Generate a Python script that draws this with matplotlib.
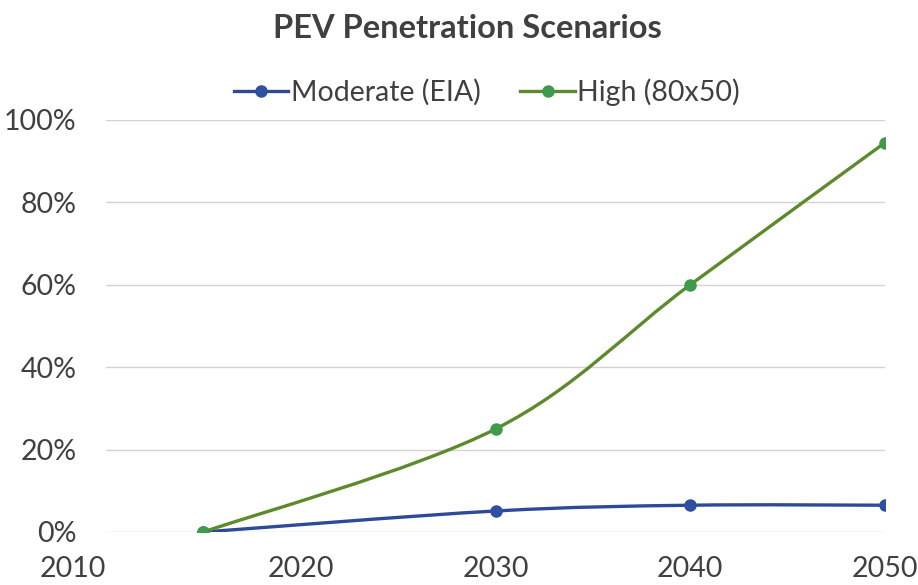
import matplotlib
matplotlib.use("Agg")
import matplotlib.pyplot as plt
from matplotlib.path import Path
from matplotlib.patches import PathPatch
from matplotlib.lines import Line2D
import numpy as np

years = [2015, 2030, 2040, 2050]
moderate = [0.0, 5.1, 6.5, 6.5]
high = [0.0, 25.0, 60.0, 94.5]
series_names = ["Moderate (EIA)", "High (80x50)"]
x_ticks = [2010, 2020, 2030, 2040, 2050]
y_ticks = [0, 20, 40, 60, 80, 100]
y_labels = ["0%", "20%", "40%", "60%", "80%", "100%"]
title = "PEV Penetration Scenarios"

plt.rcParams['font.family'] = ['Lato', 'DejaVu Sans']

fig = plt.figure(figsize=(9.18, 5.85), dpi=100)
ax = fig.add_axes([106/918, 1-532/585, (885-106)/918, (532-120)/585])


def smooth_path(xs, ys):
    pts = np.column_stack([xs, ys]).astype(float)
    n = len(pts)
    verts = [pts[0]]
    codes = [Path.MOVETO]
    for i in range(n - 1):
        p0 = pts[i - 1] if i > 0 else pts[i]
        p1 = pts[i]
        p2 = pts[i + 1]
        p3 = pts[i + 2] if i + 2 < n else pts[i + 1]
        c1 = p1 + (p2 - p0) / 6.0
        c2 = p2 - (p3 - p1) / 6.0
        verts += [c1, c2, p2]
        codes += [Path.CURVE4] * 3
    return Path(verts, codes)


line_colors = ["#2D4A9A", "#5C8A2C"]
marker_colors = ["#2F4FA0", "#3F9A4C"]
for vals, lc, mc in zip([moderate, high], line_colors, marker_colors):
    patch = PathPatch(smooth_path(years, vals), facecolor='none', edgecolor=lc, lw=2.4, zorder=3)
    ax.add_patch(patch)
    ax.plot(years, vals, ls='none', marker='o', ms=8, color=mc, zorder=4)

ax.set_xlim(2010, 2050)
ax.set_ylim(0, 100)
ax.set_xticks(x_ticks)
ax.set_yticks(y_ticks)
ax.set_yticklabels(y_labels)
ax.tick_params(length=0, labelsize=20.5, colors='#404040')
ax.tick_params(axis='x', pad=17)
ax.tick_params(axis='y', pad=21)
for lab in ax.get_xticklabels():
    if lab.get_text() == "2010":
        lab.set_horizontalalignment('right')
ax.grid(axis='y', color='#D3D3D3', lw=1)
ax.set_axisbelow(True)
for s in ax.spines.values():
    s.set_visible(False)

handles = [Line2D([0], [0], color=lc, lw=2.4, marker='o', ms=8, markerfacecolor=mc, markeredgecolor=mc)
           for lc, mc in zip(line_colors, marker_colors)]
fig.legend(handles, series_names, loc='center', bbox_to_anchor=(487/918, 1-92/585), ncol=2,
           frameon=False, fontsize=20.5, handlelength=1.9, handletextpad=0.1, columnspacing=1.4,
           labelcolor='#404040')

fig.text(467/918, 1-29/585, title, ha='center', va='center', fontsize=23.5, fontweight='bold', color='#404040')

fig.savefig("out.png", dpi=100, facecolor='white')
